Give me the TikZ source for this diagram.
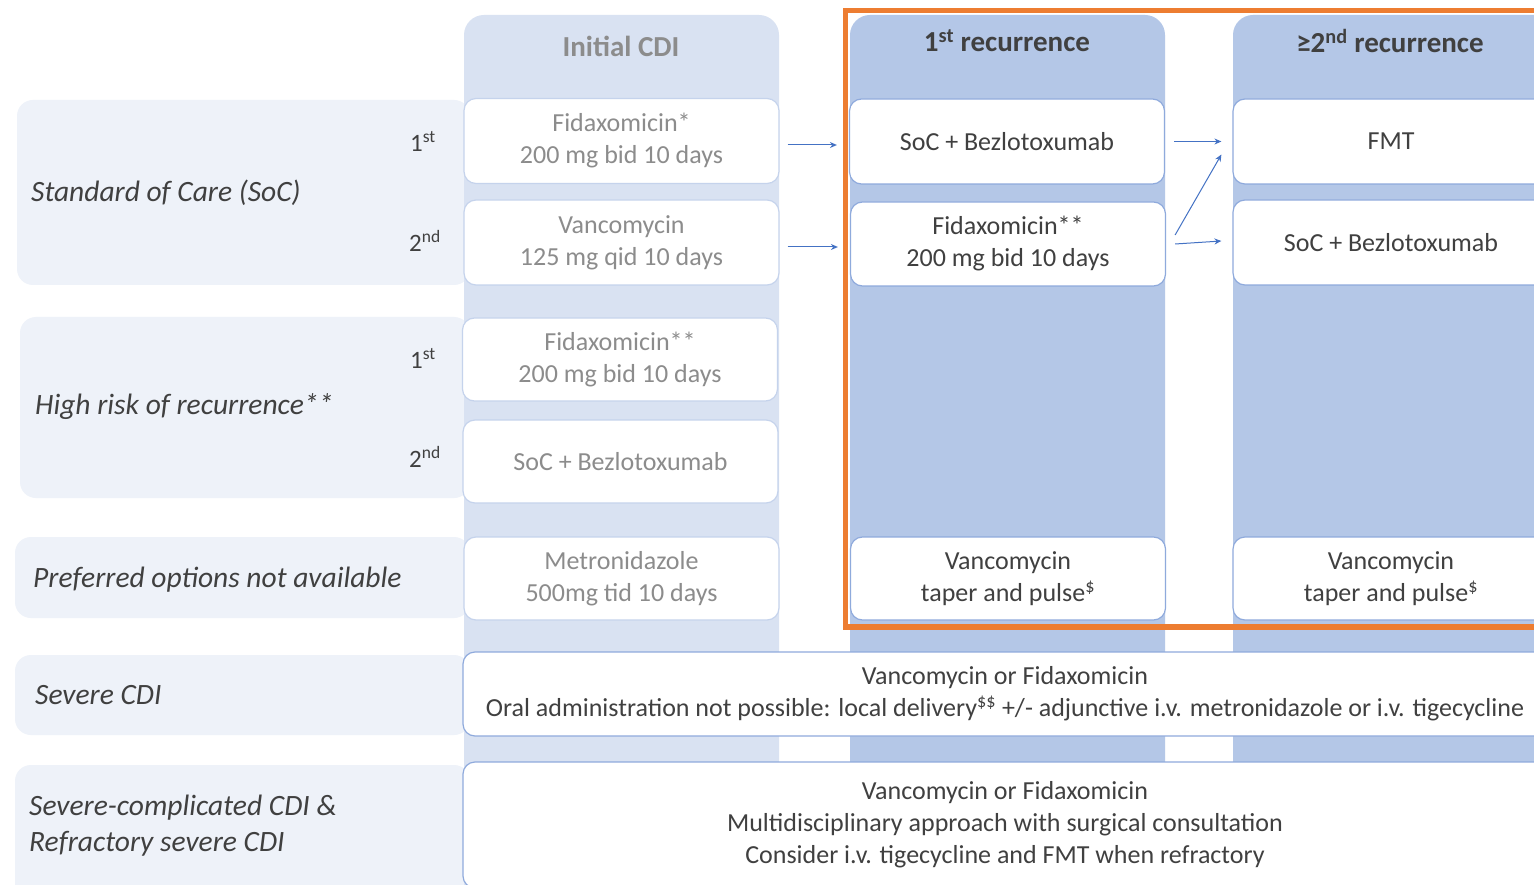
\documentclass[tikz,border=0pt]{standalone}
\usepackage{fontspec}
\setmainfont{Carlito}
\usetikzlibrary{arrows.meta}
\definecolor{colfaint}{HTML}{D9E2F2}
\definecolor{colmain}{HTML}{B4C7E7}
\definecolor{rowbg}{HTML}{EEF2F9}
\definecolor{boxline}{HTML}{8FAADC}
\definecolor{boxlinefaint}{HTML}{C5D3EC}
\definecolor{ink}{HTML}{404040}
\definecolor{fade}{HTML}{8C8C8C}
\definecolor{frameorange}{HTML}{ED7D31}
\definecolor{arrowblue}{HTML}{4472C4}

\begin{document}
\begin{tikzpicture}[x=1pt,y=-1pt,
  every node/.style={inner sep=0pt},
  box/.style={draw=boxline, line width=1.2pt, fill=white, rounded corners=12pt,
    align=center, minimum width=315pt, minimum height=85pt,
    font=\fontsize{26}{32}\selectfont, text=ink},
  fadedbox/.style={box, draw=boxlinefaint, text=fade},
  widebox/.style={box, minimum width=1084pt},
  rowlabel/.style={anchor=west, align=left, text=ink,
    font=\fontsize{29.5}{36}\selectfont\itshape},
  ordinal/.style={text=ink, font=\fontsize{25}{28}\selectfont},
  header/.style={font=\fontsize{29}{32}\selectfont\bfseries, text=ink},
  flow/.style={draw=arrowblue, line width=1pt, -{Stealth[length=7pt,width=6pt]}},
  rowband/.style={fill=rowbg, rounded corners=16pt},
  column/.style={rounded corners=20pt}
]
\clip (0,0) rectangle (1534,885);
\fill[white] (0,0) rectangle (1534,885);

% row bands behind the category labels
\fill[rowband] (17,100) rectangle (470,285);
\fill[rowband] (20,317) rectangle (470,498);
\fill[rowband] (15,537) rectangle (470,618);
\fill[rowband] (15,655) rectangle (470,735);
\fill[rowband] (15,765) rectangle (470,905);

% stage columns
\fill[colfaint, column] (464,15) rectangle (779,930);
\fill[colmain, column] (850,15) rectangle (1165,930);
\fill[colmain, column] (1233,15) rectangle (1560,930);

% column headers
\node[header, text=fade] (hInit) at (621,46) {Initial CDI};
\node[header] (hFirst) at (1007,41) {1\textsuperscript{st} recurrence};
\node[header] (hSecond) at (1390,41) {≥2\textsuperscript{nd} recurrence};

% category labels
\node[rowlabel] (lSoc) at (31,193) {Standard of Care (SoC)};
\node[rowlabel] (lHigh) at (35,407) {High risk of recurrence**};
\node[rowlabel] (lPref) at (33,580) {Preferred options not available};
\node[rowlabel] (lSev) at (35,695) {Severe CDI};
\node[rowlabel] (lComp) at (29,826) {Severe-complicated CDI \&\\Refractory severe CDI};

\node[ordinal] (oA) at (423,141) {1\textsuperscript{st}};
\node[ordinal] (oB) at (425,241) {2\textsuperscript{nd}};
\node[ordinal] (oC) at (423,358) {1\textsuperscript{st}};
\node[ordinal] (oD) at (425,457) {2\textsuperscript{nd}};

% initial episode
\node[fadedbox] (i1) at (621.5,141) {Fidaxomicin*\\200 mg bid 10 days};
\node[fadedbox] (i2) at (621.5,242.5) {Vancomycin\\125 mg qid 10 days};
\node[fadedbox, minimum height=83pt] (i3) at (620,359.5) {Fidaxomicin**\\200 mg bid 10 days};
\node[fadedbox, minimum height=83pt] (i4) at (620.5,461.5) {SoC + Bezlotoxumab};
\node[fadedbox, minimum height=83pt] (i5) at (621.5,578.5) {Metronidazole\\500mg tid 10 days};

% first recurrence
\node[box] (r1a) at (1007,141.5) {SoC + Bezlotoxumab};
\node[box, minimum height=84pt] (r1b) at (1008,244) {Fidaxomicin**\\200 mg bid 10 days};
\node[box, minimum height=83pt] (r1c) at (1008,578.5) {Vancomycin\\taper and pulse\textsuperscript{\$}};

% second or later recurrence
\node[box, minimum width=316pt] (r2a) at (1391,141.5) {FMT};
\node[box, minimum width=316pt] (r2b) at (1391,242.5) {SoC + Bezlotoxumab};
\node[box, minimum width=316pt, minimum height=83pt] (r2c) at (1391,578.5) {Vancomycin\\taper and pulse\textsuperscript{\$}};

% severe forms across all stages
\node[widebox, minimum height=84pt] (sev) at (1005,694)
  {Vancomycin or Fidaxomicin\\Oral administration not possible: local delivery\textsuperscript{\$\$} +/- adjunctive i.v. metronidazole or i.v. tigecycline};
\node[widebox, minimum height=126pt] (comp) at (1005,825)
  {Vancomycin or Fidaxomicin\\Multidisciplinary approach with surgical consultation\\Consider i.v. tigecycline and FMT when refractory};

% recurrence frame
\draw[frameorange, line width=5.5pt] (845.5,10.5) rectangle (1548,627);

% transitions
\draw[flow] ([xshift=8pt,yshift=-4pt]i1.east) -- ([xshift=-12pt,yshift=-3.5pt]r1a.west);
\draw[flow] ([xshift=8pt,yshift=-4.5pt]i2.east) -- ([xshift=-12pt,yshift=-3pt]r1b.west);
\draw[flow] ([xshift=9pt]r1a.east) -- ([xshift=-11pt]r2a.west);
\draw[flow] ([xshift=9pt]r1b.east) -- ([xshift=-11pt,yshift=1.5pt]r2b.west);
\draw[flow] ([xshift=9pt,yshift=9pt]r1b.east) -- ([xshift=-11pt,yshift=-13pt]r2a.west);
\end{tikzpicture}
\end{document}
